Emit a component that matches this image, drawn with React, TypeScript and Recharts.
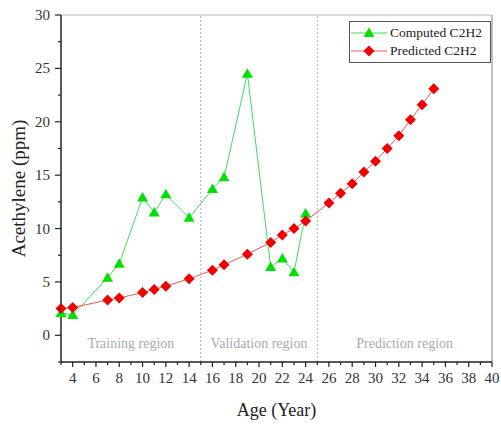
import React from 'react'
import {
  LineChart,
  Line,
  XAxis,
  YAxis,
  ReferenceLine,
  ReferenceArea,
  Legend,
} from 'recharts'

// Computed C2H2 (green triangles)
const computedAge = [3, 4, 7, 8, 10, 11, 12, 14, 16, 17, 19, 21, 22, 23, 24]
const computedPpm = [2.1, 1.9, 5.4, 6.7, 12.9, 11.5, 13.2, 11.0, 13.7, 14.8, 24.5, 6.4, 7.2, 5.9, 11.4]

// Predicted C2H2 (red diamonds)
const predictedAge = [3, 4, 7, 8, 10, 11, 12, 14, 16, 17, 19, 21, 22, 23, 24, 26, 27, 28, 29, 30, 31, 32, 33, 34, 35]
const predictedPpm = [
  2.5, 2.6, 3.3, 3.5, 4.0, 4.3, 4.6, 5.3, 6.1, 6.6, 7.6, 8.7, 9.4, 10.0, 10.7, 12.4, 13.3, 14.2, 15.3, 16.3,
  17.5, 18.7, 20.2, 21.6, 23.1,
]

const xTicks = Array.from({ length: 38 }, (_, i) => 3 + i)
const yTicks = Array.from({ length: 14 }, (_, i) => -2.5 + i * 2.5)

const regions = [
  { from: 3, to: 15, name: 'Training region' },
  { from: 15, to: 25, name: 'Validation region' },
  { from: 25, to: 40, name: 'Prediction region' },
]

const computedData = computedAge.map((x, i) => ({ x, computed: computedPpm[i] }))
const predictedData = predictedAge.map((x, i) => ({ x, predicted: predictedPpm[i] }))

const FONT = '"Liberation Serif", "DejaVu Serif", serif'
const GREEN = '#00e000'
const GREEN_LINE = '#3fdc60'
const RED = '#f00000'
const RED_LINE = '#e45a5a'

const Triangle = ({ cx, cy, fill }: any) => {
  if (cx == null || cy == null) return null
  return <path d={`M${cx},${cy - 5.5} L${cx + 5.5},${cy + 4} L${cx - 5.5},${cy + 4} Z`} fill={fill} />
}

const Diamond = ({ cx, cy, fill }: any) => {
  if (cx == null || cy == null) return null
  return <path d={`M${cx},${cy - 5.5} L${cx + 5.5},${cy} L${cx},${cy + 5.5} L${cx - 5.5},${cy} Z`} fill={fill} />
}

const XTick = ({ x, y, payload }: any) => {
  const major = payload.value % 2 === 0
  return (
    <g>
      <line x1={x} y1={y} x2={x} y2={y + (major ? 5 : 3)} stroke="#222" strokeWidth={1.2} />
      {major && (
        <text x={x} y={y + 21} textAnchor="middle" fontSize={15} fontFamily={FONT} fill="#333">
          {payload.value}
        </text>
      )}
    </g>
  )
}

const YTick = ({ x, y, payload }: any) => {
  const major = payload.value % 5 === 0
  return (
    <g>
      <line x1={x} y1={y} x2={x - (major ? 6 : 3)} y2={y} stroke="#222" strokeWidth={1.2} />
      {major && (
        <text x={x - 11} y={y + 5} textAnchor="end" fontSize={15} fontFamily={FONT} fill="#333">
          {payload.value}
        </text>
      )}
    </g>
  )
}

const LegendBox = () => (
  <div
    style={{
      width: 140,
      border: '1px solid #555',
      background: '#fff',
      fontFamily: FONT,
      fontSize: 13.5,
      color: '#222',
      padding: '2px 0',
      lineHeight: '18px',
    }}
  >
    {[
      { label: 'Computed C2H2', line: GREEN_LINE, fill: GREEN, Shape: Triangle },
      { label: 'Predicted C2H2', line: RED_LINE, fill: RED, Shape: Diamond },
    ].map(({ label, line, fill, Shape }) => (
      <div key={label} style={{ display: 'flex', alignItems: 'center', height: 18 }}>
        <svg width={40} height={18} style={{ flex: 'none' }}>
          <line x1={1} y1={9} x2={37} y2={9} stroke={line} strokeWidth={1} />
          <Shape cx={19} cy={9} fill={fill} />
        </svg>
        <span>{label}</span>
      </div>
    ))}
  </div>
)

export default function App() {
  return (
    <div style={{ width: 501, height: 430, background: '#fff' }}>
      <style>{'body{margin:0}'}</style>
      <LineChart width={501} height={430} margin={{ top: 15, right: 9, left: 0, bottom: 0 }}>
        <XAxis
          type="number"
          dataKey="x"
          domain={[3, 40]}
          ticks={xTicks}
          interval={0}
          tick={<XTick />}
          tickSize={0}
          tickMargin={0}
          height={68}
          axisLine={{ stroke: '#222', strokeWidth: 1.5 }}
          allowDuplicatedCategory={false}
          label={{
            value: 'Age (Year)',
            position: 'insideBottom',
            offset: 14,
            fontSize: 18,
            fontFamily: FONT,
            fill: '#222',
          }}
        />
        <YAxis
          type="number"
          domain={[-2.5, 30]}
          ticks={yTicks}
          interval={0}
          tick={<YTick />}
          tickSize={0}
          tickMargin={0}
          width={61}
          axisLine={{ stroke: '#222', strokeWidth: 1.5 }}
          label={{
            value: 'Acethylene (ppm)',
            angle: -90,
            position: 'insideLeft',
            offset: 18,
            fontSize: 19,
            fontFamily: FONT,
            fill: '#222',
            style: { textAnchor: 'middle' },
          }}
        />
        <ReferenceLine y={30} stroke="#cfcfcf" strokeWidth={1.5} />
        <ReferenceLine x={40} stroke="#a8a8a8" strokeWidth={1.5} />
        {regions.map((r) => (
          <ReferenceArea
            key={r.name}
            x1={r.from}
            x2={r.to}
            fill="none"
            fillOpacity={0}
            stroke="none"
            label={{
              value: r.name,
              position: 'insideBottom',
              offset: 14,
              fontSize: 14,
              fontFamily: FONT,
              fill: '#aaaaaa',
            }}
          />
        ))}
        <ReferenceLine x={15} stroke="#b0b0b0" strokeDasharray="2 2" />
        <ReferenceLine x={25} stroke="#b0b0b0" strokeDasharray="2 2" />
        <Legend
          layout="vertical"
          align="center"
          verticalAlign="middle"
          wrapperStyle={{ top: 21, left: 349, width: 142 }}
          content={<LegendBox />}
        />
        <Line
          data={computedData}
          dataKey="computed"
          name="Computed C2H2"
          stroke={GREEN_LINE}
          strokeWidth={1}
          dot={<Triangle fill={GREEN} />}
          activeDot={false}
          isAnimationActive={false}
        />
        <Line
          data={predictedData}
          dataKey="predicted"
          name="Predicted C2H2"
          stroke={RED_LINE}
          strokeWidth={1}
          dot={<Diamond fill={RED} />}
          activeDot={false}
          isAnimationActive={false}
        />
      </LineChart>
    </div>
  )
}
